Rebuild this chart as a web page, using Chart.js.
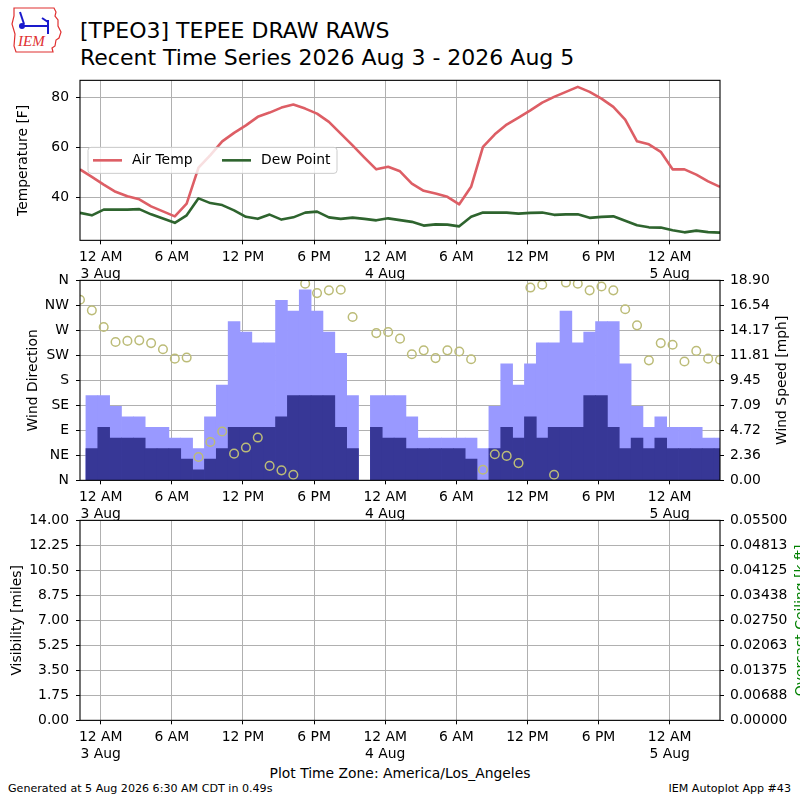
<!DOCTYPE html>
<html>
<head>
<meta charset="utf-8">
<script src="https://cdn.jsdelivr.net/npm/chart.js@4.4.1/dist/chart.umd.min.js"></script>
<style>
  html, body { margin:0; padding:0; background:#fff; }
  body { width:800px; height:800px; position:relative; overflow:hidden; font-family:'DejaVu Sans', sans-serif; color:#000; }
  canvas { position:absolute; left:0; }
  .t { position:absolute; white-space:nowrap; }
</style>
</head>
<body>
<svg class="t" style="left:8px;top:4px" width="56" height="52" viewBox="0 0 56 52">
  <path d="M6 4 L46 4 L48 8 L47 12 L50 16 L50 22 L53 28 L51 34 L48 36 L47 42 L44 44 L45 48 L8 48 L6 42 L7 30 L4 20 L6 12 Z" fill="none" stroke="#e03030" stroke-width="1.2"/>
  <g stroke="#1a1acc" stroke-width="2" fill="none">
    <line x1="14" y1="22" x2="40" y2="22"/>
    <line x1="40" y1="16" x2="40" y2="30"/>
    <line x1="12" y1="8" x2="16" y2="20"/>
    <line x1="34" y1="14" x2="40" y2="18"/>
  </g>
  <circle cx="14" cy="22" r="3" fill="#1a1acc"/>
  <text x="10" y="42" font-family="Liberation Serif, serif" font-style="italic" font-size="15" fill="#e03030">IEM</text>
</svg>
<div class="t" style="left:80px;top:17px;font-size:22px;line-height:27px">[TPEO3] TEPEE DRAW RAWS<br>Recent Time Series 2026 Aug 3 - 2026 Aug 5</div>

<div class="t" style="left:0;width:800px;text-align:center;top:765px;font-size:13.9px;line-height:17px">Plot Time Zone: America/Los_Angeles</div>
<div class="t" style="left:8px;top:782px;font-size:11.1px;line-height:14px">Generated at 5 Aug 2026 6:30 AM CDT in 0.49s</div>
<div class="t" style="right:9px;top:782px;font-size:11.1px;line-height:14px">IEM Autoplot App #43</div>

<canvas id="c1" width="800" height="235" style="top:70px"></canvas>
<canvas id="c2" width="800" height="265" style="top:270px"></canvas>
<canvas id="c3" width="800" height="265" style="top:510px"></canvas>

<script>
// ---------------- data ----------------
// observation times: hours relative to 3 Aug 2026 00:00 (America/Los_Angeles), hourly at :15
const firstObsHour = -1.75;
const obsCount = 55;
const obsHours = Array.from({length: obsCount}, (_, i) => firstObsHour + i);

const airTemp = [51.3,48.3,45.2,42.3,40.5,39.3,36.5,34.5,32.5,37.6,
                 52.0,57.0,62.5,65.9,68.9,72.3,74.0,76.0,77.2,75.6,
                 73.6,70.3,65.6,60.9,56.0,51.3,52.3,50.5,45.6,42.7,
                 41.6,40.3,37.3,44.3,60.3,65.3,69.2,72.0,74.9,78.0,
                 80.3,82.3,84.3,82.3,79.6,76.3,71.2,62.5,61.3,58.3,
                 51.3,51.3,49.2,46.5,44.3];
const dewPoint = [33.9,32.9,35.2,35.2,35.2,35.4,33.3,31.6,29.9,32.9,
                  39.7,37.8,37.0,34.9,32.3,31.5,33.2,31.2,32.1,34.0,
                  34.4,32.1,31.5,32.0,31.5,30.9,31.7,31.0,30.3,28.8,
                  29.3,29.2,28.5,32.3,34.0,34.0,34.0,33.6,33.9,34.0,
                  33.1,33.3,33.3,31.9,32.3,32.5,30.7,28.9,28.1,28.0,
                  26.9,26.1,26.8,26.2,26.0];
const windSpeed = [null,3,5,4,4,4,3,3,3,2,
                   1,2,3,5,5,5,5,6,8,8,
                   8,8,5,3,null,5,4,4,3,3,
                   3,3,3,2,0,3,5,4,6,4,
                   5,5,5,8,8,5,3,4,3,4,
                   3,3,3,3,3];
const windGust = [null,8,8,7,6,6,5,5,4,4,
                  3,6,9,15,14,13,13,17,16,18,
                  16,14,12,8,null,8,8,8,6,4,
                  4,4,4,4,3,7,11,9,11,13,
                  13,16,13,14,15,15,11,7,5,6,
                  5,5,5,4,4];
const windDir = [325,306,276,249,251,252,247,236,219,221,
                 42,69,88,48,59,77,26,18,10,354,
                 337,342,343,294,null,265,267,255,227,234,
                 220,234,232,218,19,47,44,31,347,352,
                 10,356,354,342,349,342,308,279,216,247,
                 244,214,233,219,217];

// axis ticks / labels
const xMin = -1.75, xMax = 52.25;
const tickHours = [0,6,12,18,24,30,36,42,48];
const tickLabels = [['12 AM','3 Aug'],'6 AM','12 PM','6 PM',['12 AM','4 Aug'],'6 AM','12 PM','6 PM',['12 AM','5 Aug']];
const tempTicks = [40,60,80];
const tempRange = [22.9, 86.9];
const dirTicks = [0,45,90,135,180,225,270,315,360];
const dirLabels = ['N','NE','E','SE','S','SW','W','NW','N'];
const speedTicks = [0,2.3625,4.725,7.0875,9.45,11.8125,14.175,16.5375,18.9];
const speedLabels = ['0.00','2.36','4.72','7.09','9.45','11.81','14.17','16.54','18.90'];
const visTicks = [0,1.75,3.5,5.25,7,8.75,10.5,12.25,14];
const visLabels = ['0.00','1.75','3.50','5.25','7.00','8.75','10.50','12.25','14.00'];
const ceilTicks = [0,0.006875,0.01375,0.020625,0.0275,0.034375,0.04125,0.048125,0.055];
const ceilLabels = ['0.00000','0.00688','0.01375','0.02063','0.02750','0.03438','0.04125','0.04813','0.05500'];

// ---------------- styling helpers ----------------
const FONT = "'DejaVu Sans', sans-serif";
const FS = 13.9;
Chart.defaults.font.family = FONT;
Chart.defaults.font.size = FS;
Chart.defaults.color = '#000';
const GRID = '#b0b0b0';

const pts = arr => obsHours.map((h, i) => ({x: h, y: arr[i]}));

function xScale(holder, z) {
  return {
    type: 'linear', min: xMin, max: xMax, offset: false, z: z || 0,
    afterBuildTicks: s => { s.ticks = tickHours.map(v => ({value: v})); },
    afterFit: s => { s.height = holder.h; },
    ticks: { autoSkip: false, maxRotation: 0, minRotation: 0, padding: 5, color: '#000',
             callback: v => tickLabels[tickHours.indexOf(v)] },
    grid: { color: GRID, lineWidth: 1, tickColor: '#000', tickLength: 4, offset: false },
    border: { display: false }
  };
}
function yScale(pos, min, max, ticks, labels, opts) {
  opts = opts || {};
  return {
    type: 'linear', position: pos, min: min, max: max, z: opts.z || 0,
    afterBuildTicks: s => { s.ticks = ticks.map(v => ({value: v})); },
    afterFit: s => { s.width = 80; },
    ticks: { autoSkip: false, padding: pos === 'left' ? 7 : 6, color: '#000',
             callback: (v, i) => labels ? labels[ticks.indexOf(v)] : String(v) },
    grid: { color: GRID, lineWidth: 1, tickColor: '#000', tickLength: 4,
            drawOnChartArea: opts.grid !== false },
    border: { display: false }
  };
}
function framePlugin() {
  return { id: 'frame', afterDraw(chart) {
    const {ctx, chartArea: a} = chart;
    ctx.save(); ctx.strokeStyle = '#000'; ctx.lineWidth = 1.1;
    ctx.strokeRect(a.left, a.top, a.right - a.left, a.bottom - a.top);
    ctx.restore();
  }};
}
function sideTitles(items) {
  return { id: 'sideTitles', afterDraw(chart) {
    const {ctx, chartArea: a} = chart;
    const cy = (a.top + a.bottom) / 2;
    items.forEach(it => {
      ctx.save();
      ctx.translate(it.x, cy); ctx.rotate(-Math.PI / 2);
      ctx.font = FS + 'px ' + FONT; ctx.fillStyle = it.color || '#000';
      ctx.textAlign = 'center'; ctx.textBaseline = 'middle';
      ctx.fillText(it.text, 0, 0);
      ctx.restore();
    });
  }};
}
const innerLegend = { id: 'innerLegend', afterDatasetsDraw(chart) {
  const {ctx, chartArea: a} = chart;
  const x0 = a.left + 8, y0 = a.top + 67, w = 249, h = 26, r = 3;
  ctx.save();
  ctx.beginPath();
  ctx.roundRect(x0, y0, w, h, r);
  ctx.fillStyle = 'rgba(255,255,255,0.8)'; ctx.fill();
  ctx.strokeStyle = '#cccccc'; ctx.lineWidth = 1; ctx.stroke();
  const cy = y0 + h / 2;
  const offs = [0, 129];
  chart.data.datasets.forEach((ds, i) => {
    const lx = x0 + 5 + offs[i];
    ctx.beginPath(); ctx.moveTo(lx, cy); ctx.lineTo(lx + 29, cy);
    ctx.strokeStyle = ds.borderColor; ctx.lineWidth = 2.6; ctx.stroke();
    ctx.font = FS + 'px ' + FONT; ctx.fillStyle = '#000';
    ctx.textAlign = 'left'; ctx.textBaseline = 'middle';
    ctx.fillText(ds.label, lx + 39, cy + 0.5);
  });
  ctx.restore();
}};

const common = { responsive: false, animation: false, events: [],
  plugins: { legend: { display: false }, tooltip: { enabled: false } } };

// place the chart area exactly at page rows [wantTop, wantBottom]
function place(chart, canvas, holder, wantTop, wantBottom) {
  for (let i = 0; i < 4; i++) {
    const a = chart.chartArea;
    const diff = (wantBottom - wantTop) - (a.bottom - a.top);
    if (Math.abs(diff) < 0.01) break;
    holder.h -= diff;
    chart.update('none');
  }
  canvas.style.top = (wantTop - chart.chartArea.top) + 'px';
}

// ---------------- panel 1: temperature ----------------
const h1 = {h: 65};
const cv1 = document.getElementById('c1');
const ch1 = new Chart(cv1, {
  type: 'line',
  data: { datasets: [
    { label: 'Air Temp', data: pts(airTemp), borderColor: '#dd5e65', borderWidth: 2.6,
      pointRadius: 0, tension: 0, borderJoinStyle: 'round' },
    { label: 'Dew Point', data: pts(dewPoint), borderColor: '#2e642e', borderWidth: 2.6,
      pointRadius: 0, tension: 0, borderJoinStyle: 'round' }
  ]},
  options: Object.assign({}, common, {
    layout: { padding: { top: 10, right: 80, left: 0, bottom: 0 } },
    scales: {
      x: xScale(h1),
      y: yScale('left', tempRange[0], tempRange[1], tempTicks, null)
    }
  }),
  plugins: [innerLegend, framePlugin(), sideTitles([{text: 'Temperature [F]', x: 23}])]
});
place(ch1, cv1, h1, 80, 240);

// ---------------- panel 2: wind ----------------
const h2 = {h: 55};
const cv2 = document.getElementById('c2');
const ch2 = new Chart(cv2, {
  type: 'bar',
  data: { datasets: [
    { type: 'line', label: 'Wind Direction', data: pts(windDir), yAxisID: 'yd', showLine: false,
      pointRadius: 4.3, pointBorderWidth: 1.5, pointBorderColor: '#bcbc78',
      pointBackgroundColor: 'rgba(0,0,0,0)', order: 1 },
    { label: 'Wind Speed', data: pts(windSpeed), yAxisID: 'ys', backgroundColor: '#373796',
      grouped: false, barPercentage: 1, categoryPercentage: 1, order: 2 },
    { label: 'Wind Gust', data: pts(windGust), yAxisID: 'ys', backgroundColor: '#9999ff',
      grouped: false, barPercentage: 1, categoryPercentage: 1, order: 3 }
  ]},
  options: Object.assign({}, common, {
    layout: { padding: { top: 10, right: 0, left: 0, bottom: 0 } },
    scales: {
      x: xScale(h2, 1),
      yd: yScale('left', 0, 360, dirTicks, dirLabels, {z: 1}),
      ys: yScale('right', 0, 18.9, speedTicks, speedLabels, {grid: false})
    }
  }),
  plugins: [framePlugin(), sideTitles([{text: 'Wind Direction', x: 33}, {text: 'Wind Speed [mph]', x: 782}])]
});
place(ch2, cv2, h2, 280, 480);

// ---------------- panel 3: visibility / ceiling ----------------
const h3 = {h: 55};
const cv3 = document.getElementById('c3');
const ch3 = new Chart(cv3, {
  type: 'line',
  data: { datasets: [] },
  options: Object.assign({}, common, {
    layout: { padding: { top: 10, right: 0, left: 0, bottom: 0 } },
    scales: {
      x: xScale(h3),
      yv: yScale('left', 0, 14, visTicks, visLabels),
      yc: yScale('right', 0, 0.055, ceilTicks, ceilLabels, {grid: false})
    }
  }),
  plugins: [framePlugin(), sideTitles([{text: 'Visibility [miles]', x: 17.5}, {text: 'Overcast Ceiling [k ft]', x: 801, color: '#008000'}])]
});
place(ch3, cv3, h3, 520, 720);
</script>
</body>
</html>
